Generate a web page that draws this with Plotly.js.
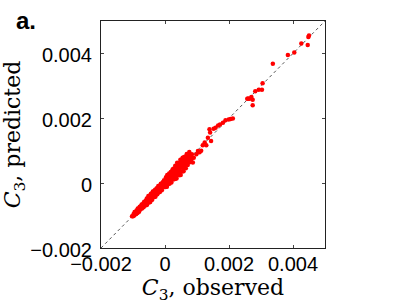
<!DOCTYPE html>
<html>
<head>
<meta charset="utf-8">
<script src="https://cdn.plot.ly/plotly-3.0.1.min.js"></script>
<style>html,body{margin:0;padding:0;background:#fff;}#chart{width:407px;height:306px;}</style>
</head>
<body>
<div id="chart"></div>
<script>
// Values, in units of 1e-3 (converted to raw units below)
const observedMilli = [
-1.03,-1.00,-0.98,-0.96,-0.95,-0.93,-0.92,-0.90,-0.89,-0.88,
-0.86,-0.85,-0.84,-0.82,-0.81,-0.80,-0.79,-0.77,-0.76,-0.75,
-0.73,-0.72,-0.71,-0.70,-0.68,-0.67,-0.66,-0.65,-0.63,-0.62,
-0.61,-0.60,
-0.59,-0.58,-0.57,-0.57,-0.56,-0.55,-0.54,-0.53,-0.52,-0.52,
-0.51,-0.50,-0.49,-0.48,-0.47,-0.46,-0.46,-0.45,-0.44,-0.43,
-0.42,-0.41,-0.40,-0.40,-0.39,-0.38,-0.37,-0.36,-0.35,-0.34,
-0.34,-0.33,-0.32,-0.31,-0.30,-0.29,-0.28,-0.28,-0.27,-0.26,
-0.25,-0.24,-0.23,-0.22,-0.22,-0.21,-0.20,-0.19,-0.18,-0.17,
-0.16,-0.16,-0.15,-0.14,-0.13,-0.12,-0.11,-0.10,-0.10,-0.09,
-0.08,-0.07,-0.06,-0.05,-0.04,-0.04,-0.03,-0.02,-0.01,0.00,
0.01,0.02,0.03,0.04,0.05,0.06,0.06,0.07,0.08,0.09,
0.10,0.11,0.12,0.13,0.14,0.14,0.15,0.16,0.17,0.18,
0.19,0.20,0.20,0.21,0.22,0.23,0.24,0.25,0.25,0.26,
0.27,0.28,0.29,0.30,
0.31,0.32,0.33,0.34,0.35,0.36,0.37,0.38,0.39,0.40,
0.41,0.42,0.43,0.44,0.45,0.46,0.47,0.48,0.49,0.50,
0.51,0.52,0.53,0.54,0.55,0.56,0.57,0.58,0.59,0.60,
0.61,0.62,0.63,0.64,0.65,0.66,0.67,0.68,0.69,0.70,
0.71,0.72,0.73,0.74,0.75,0.76,0.77,0.78,0.79,0.80,
0.82,0.84,0.87,0.90,
0.98,1.03,1.08,1.13,1.18,1.24,1.29,1.34,1.44,1.39,
1.41,1.52,1.58,1.66,1.72,1.81,1.89,1.99,2.05,2.12,
2.57,2.60,2.64,2.70,2.74,2.74,2.82,2.93,3.03,3.05,
3.37,3.84,4.04,4.26,4.46,4.48,4.50
];
const predictedMilli = [
-1.02,-1.02,-0.95,-1.00,-0.89,-0.94,-0.90,-0.95,-0.84,-0.88,
-0.92,-0.78,-0.86,-0.79,-0.88,-0.79,-0.73,-0.81,-0.72,-0.76,
-0.66,-0.78,-0.69,-0.73,-0.63,-0.74,-0.66,-0.57,-0.68,-0.59,
-0.63,-0.54,
-0.68,-0.54,-0.60,-0.47,-0.67,-0.54,-0.47,-0.59,-0.40,-0.54,
-0.46,-0.60,-0.47,-0.39,-0.52,-0.58,-0.40,-0.45,-0.33,-0.51,
-0.39,-0.44,-0.32,-0.51,-0.38,-0.26,-0.43,-0.31,-0.36,-0.43,
-0.25,-0.31,-0.36,-0.20,-0.42,-0.23,-0.30,-0.25,-0.34,-0.16,
-0.25,-0.34,-0.16,-0.21,-0.27,-0.09,-0.28,-0.15,-0.20,-0.08,
-0.27,-0.14,-0.09,-0.18,-0.02,-0.19,-0.11,-0.02,-0.22,-0.06,
-0.11,0.03,-0.12,0.00,-0.13,-0.03,0.09,-0.04,0.06,-0.10,
0.06,-0.12,0.18,0.01,0.14,-0.11,0.07,0.25,0.00,0.15,
-0.02,0.24,0.11,0.30,-0.02,0.18,0.09,0.26,0.06,0.34,
0.21,0.02,0.28,0.17,0.36,0.14,0.43,0.11,0.28,0.37,
0.20,0.45,0.13,0.36,
0.13,0.54,0.35,0.24,0.50,0.14,0.45,0.63,0.34,0.52,
0.26,0.62,0.43,0.24,0.62,0.52,0.36,0.72,0.25,0.60,
0.48,0.71,0.36,0.58,0.78,0.47,0.70,0.37,0.60,0.81,
0.48,0.71,0.59,0.82,0.46,0.80,0.60,0.90,0.68,0.81,
0.56,0.90,0.76,0.64,0.88,0.96,0.72,0.86,0.65,0.82,
0.74,0.89,0.64,0.78,
0.89,0.99,0.95,1.00,1.17,1.25,1.17,1.40,1.30,1.66,
1.56,1.68,1.71,1.78,1.81,1.86,1.94,1.96,1.98,1.99,
2.60,2.61,2.60,2.66,2.40,2.57,2.83,2.88,2.88,3.08,
3.68,3.95,4.03,4.31,4.26,4.51,4.55
];
const xTickVals = [-0.002, 0, 0.002, 0.004];
const xTickText = ['\u22120.002', '0', '0.002', '0.004'];
const yTickVals = [-0.002, 0, 0.002, 0.004];
const yTickText = ['\u22120.002', '0', '0.002', '0.004'];
const axisRange = [-0.002, 0.005];
const panelLabel = 'a.';
const xTitle = '<i>C</i><sub>3</sub>, observed';
const yTitle = '<i>C</i><sub>3</sub>, predicted';

const observed = observedMilli.map(v => v / 1000);
const predicted = predictedMilli.map(v => v / 1000);

const tickFont = {family: 'Liberation Sans, Arial, sans-serif', size: 20, color: '#000'};
const titleFont = {family: 'DejaVu Serif, serif', size: 22, color: '#000'};

const axisCommon = {
  range: axisRange,
  tickmode: 'array',
  ticks: 'inside',
  ticklen: 3,
  tickwidth: 1,
  tickcolor: '#444',
  showline: true,
  linecolor: '#222',
  linewidth: 1,
  mirror: 'ticks',
  showgrid: false,
  zeroline: false,
  tickfont: tickFont,
  automargin: false
};

const data = [
  {
    x: axisRange, y: axisRange, mode: 'lines', type: 'scatter',
    line: {color: '#555', width: 1, dash: '3px,3px'}, hoverinfo: 'skip'
  },
  {
    x: observed, y: predicted, mode: 'markers', type: 'scatter',
    marker: {color: '#ff0000', size: 4.5}
  }
];

const layout = {
  width: 407, height: 306,
  margin: {l: 101, r: 82, t: 21, b: 58},
  paper_bgcolor: '#fff', plot_bgcolor: '#fff',
  showlegend: false,
  xaxis: Object.assign({}, axisCommon, {
    tickvals: xTickVals, ticktext: xTickText,
    ticklabelstandoff: -2,
    title: {text: xTitle, font: titleFont, standoff: 5}
  }),
  yaxis: Object.assign({}, axisCommon, {
    tickvals: yTickVals, ticktext: yTickText,
    ticklabelstandoff: 4,
    ticklabelshift: 2,
    title: {text: yTitle, font: titleFont, standoff: 4}
  }),
  annotations: [{
    text: '<b>' + panelLabel + '</b>', xref: 'paper', yref: 'paper',
    x: -0.39, y: 1.0, xanchor: 'left', yanchor: 'top', yshift: 16,
    showarrow: false, font: {family: 'Liberation Sans, Arial, sans-serif', size: 24, color: '#000'}
  }]
};

Plotly.newPlot('chart', data, layout, {displayModeBar: false, staticPlot: true});
</script>
</body>
</html>
